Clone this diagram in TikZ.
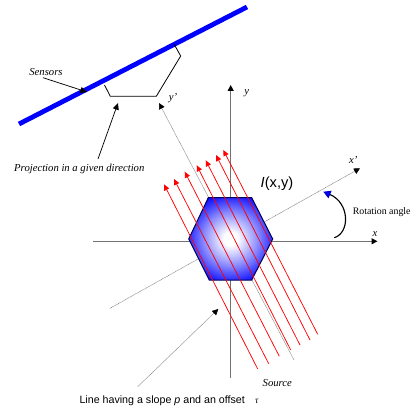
\documentclass[tikz,border=0pt]{standalone}
\usepackage{fontspec}
\setmainfont{Liberation Serif}
\setsansfont{Liberation Sans}
\usetikzlibrary{arrows.meta}
\pgfdeclareradialshading{hexshade}{\pgfpoint{0bp}{0bp}}{color(0bp)=(white); color(4bp)=(white); color(16bp)=(blue!45!white); color(29bp)=(blue); color(50bp)=(blue)}
\tikzset{
  axisline/.style={draw=black!55,line width=0.95pt,-{Triangle[length=4.5pt,width=4.5pt,black]}},
  dotline/.style={draw=black!50,line width=0.4pt,dash pattern=on 0.6pt off 0.4pt,-{Triangle[length=4.5pt,width=4.5pt,black,sep=0pt]}},
  blackarrow/.style={draw=black,line width=0.55pt,-{Triangle[length=5pt,width=4.5pt]}},
  redarrow/.style={draw=red,line width=0.55pt,-{Triangle[length=4.5pt,width=4pt]}},
  serifit/.style={font=\rmfamily\itshape\fontsize{8}{9}\selectfont,inner sep=0pt},
  serifup/.style={font=\rmfamily\fontsize{7.4}{9}\selectfont,inner sep=0pt,anchor=west},
  sanslabel/.style={font=\sffamily\fontsize{8}{9}\selectfont,inner sep=0pt,anchor=west},
}
\begin{document}
\begin{tikzpicture}[x=0.75pt,y=-0.75pt]
\useasboundingbox (0,0) rectangle (411,410);
% axes
\coordinate (xa) at (93,241.3); \coordinate (xb) at (377.5,241.3);
\coordinate (ya) at (230.7,378); \coordinate (yb) at (230.7,85);
\draw[axisline] (xa) -- (xb);
\draw[axisline] (ya) -- (yb);
% rotated axes
\coordinate (xpa) at (110,308.3); \coordinate (xpb) at (360,168.3);
\coordinate (ypa) at (294,360); \coordinate (ypb) at (159,103);
\draw[dotline] (xpa) -- (xpb);
\draw[dotline] (ypa) -- (ypb);
% object
\shade[shading=hexshade,draw=blue!35!black,line width=0.75pt]
  (208.3,197.7) -- (251.7,197.7) -- (272.7,239) -- (251.7,280) -- (209.3,280) -- (188.7,239) -- cycle;
% rays
\foreach \i/\ax/\ay/\bx/\by in {1/257.7/369/164/184.3,2/268.7/363.7/174/179,3/279.3/356.3/184.7/171.7,4/290.7/350/196.7/165.3,5/300/345/205.7/160.3,6/310/340/216/155,7/317.7/334.3/223.3/150}{
  \coordinate (ra\i) at (\ax,\ay);
  \coordinate (rb\i) at (\bx,\by);
  \draw[redarrow] (ra\i) -- (rb\i);
}
% detector
\coordinate (da) at (19,124); \coordinate (db) at (247,7);
\draw[draw=blue,line width=3.6pt] (da) -- (db);
\draw[black,line width=0.6pt,line join=miter] (104.5,85) -- (110.3,96.3) -- (156.3,96.3) -- (180.7,56) -- (174,44);
% labels
\node[serifit] (sensors) at (46,71.7) {Sensors};
\coordinate (sa) at (43,77.7); \coordinate (sb) at (87,92);
\draw[blackarrow] (sa) -- (sb);
\node[serifit] (proj) at (79.3,169.3) {Projection in a given direction};
\coordinate (pa) at (98,159); \coordinate (pb) at (118,103);
\draw[blackarrow] (pa) -- (pb);
\node[serifit] (yplabel) at (173,98) {y'};
\node[serifit] (ylabel) at (246.7,93) {y};
\node[serifit] (xplabel) at (353.3,159.5) {x'};
\node[serifit] (xlabel) at (375,234) {x};
\node[inner sep=0pt,font=\sffamily\fontsize{11}{12}\selectfont] (ixy) at (277,184) {\textit{I}(x,y)};
\node[serifup] (rot) at (352.5,212.3) {Rotation angle};
\coordinate (ca) at (334.3,237.7); \coordinate (cb) at (323.3,191.7);
\draw[black,line width=0.85pt,-{Triangle[length=5.5pt,width=6pt,color=blue!80!black,fill=blue]}] (ca) .. controls (350,233) and (350,203) .. (cb);
\node[serifit] (source) at (277.3,382.7) {Source};
\node[sanslabel] (linelabel) at (79.3,401) {Line having a slope \textit{p} and an offset};
\node[serifit,font=\rmfamily\itshape\fontsize{7}{8}\selectfont] (tau) at (256.7,401) {τ};
\coordinate (la) at (137.7,386.7); \coordinate (lb) at (218.3,309);
\draw[dotline] (la) -- (lb);
\end{tikzpicture}
\end{document}
